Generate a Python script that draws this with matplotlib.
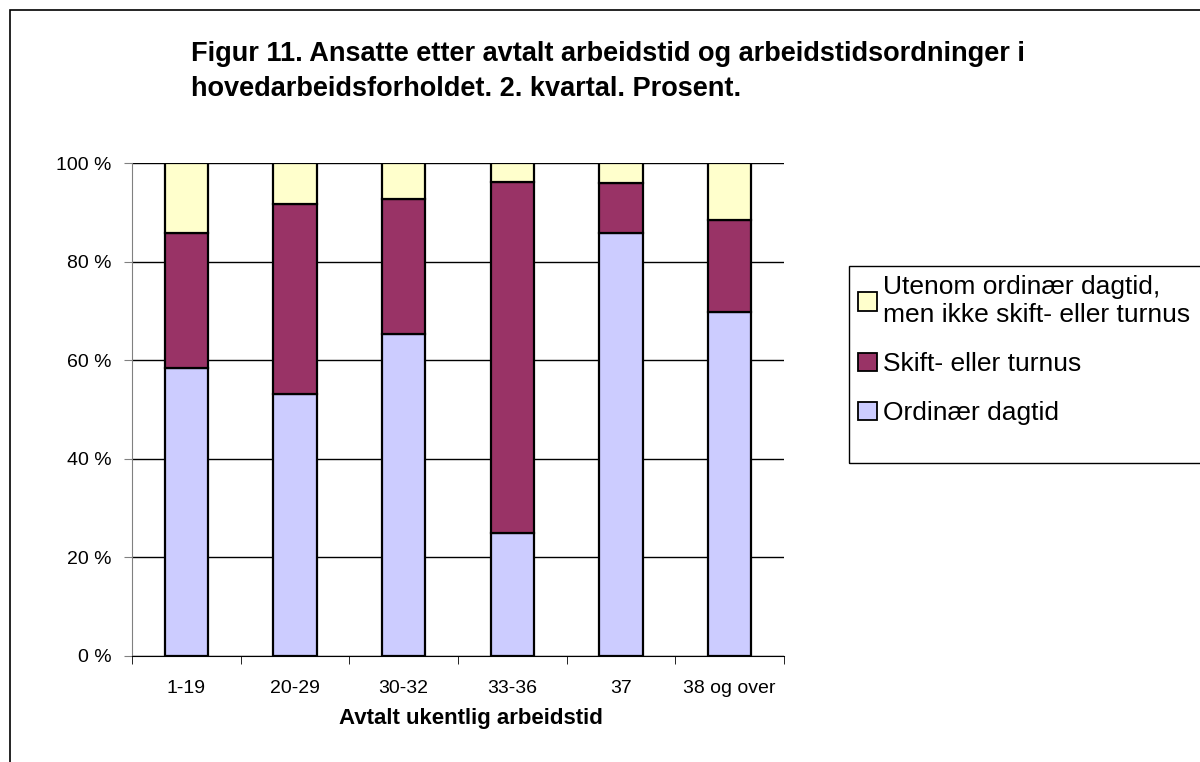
import numpy as np
import matplotlib
matplotlib.use("Agg")
import matplotlib.pyplot as plt
from matplotlib.patches import Patch, Rectangle
from matplotlib.ticker import FixedLocator

plt.rcParams['font.family'] = ['Liberation Sans', 'DejaVu Sans']

kategorier = ['1-19', '20-29', '30-32', '33-36', '37', '38 og over']
ordinaer = [58.5, 53.2, 65.4, 25.0, 85.7, 69.8]      # Ordinær dagtid
skift = [27.4, 38.5, 27.2, 71.1, 10.2, 18.6]         # Skift- eller turnus
utenom = [14.1, 8.3, 7.4, 3.9, 4.1, 11.6]            # Utenom ordinær dagtid
serienavn = ['Ordinær dagtid', 'Skift- eller turnus',
             'Utenom ordinær dagtid,\nmen ikke skift- eller turnus']
farger = ['#CCCCFF', '#993366', '#FFFFCC']

fig = plt.figure(figsize=(12, 7.62), dpi=100)
ax = fig.add_axes([132 / 1200, 1 - 656 / 762, 652 / 1200, 493 / 762])

x = np.arange(len(kategorier))
bunn = np.zeros(len(kategorier))
for verdier, farge in zip([ordinaer, skift, utenom], farger):
    ax.bar(x, verdier, width=0.40, bottom=bunn, color=farge,
           edgecolor='black', linewidth=1.6, zorder=3)
    bunn += np.array(verdier)

ax.set_xlim(-0.5, len(kategorier) - 0.5)
ax.set_ylim(0, 100)
ax.set_yticks([0, 20, 40, 60, 80, 100])
ax.set_yticklabels(['%d %%' % v for v in [0, 20, 40, 60, 80, 100]], fontsize=14)
ax.set_xticks(x)
ax.set_xticklabels(kategorier, fontsize=14)
ax.xaxis.set_minor_locator(FixedLocator(np.arange(-0.5, len(kategorier), 1)))
ax.tick_params(axis='x', which='major', length=0, pad=17)
ax.tick_params(axis='x', which='minor', length=6, direction='out', color='black')
ax.tick_params(axis='y', length=6, direction='out', pad=9, color='#808080')
ax.grid(axis='y', color='black', linewidth=1.0, zorder=0)
for s in ['top', 'right']:
    ax.spines[s].set_visible(False)
ax.spines['left'].set_color('#808080')
ax.spines['bottom'].set_color('black')
ax.set_xlabel('Avtalt ukentlig arbeidstid', fontsize=16, fontweight='bold')
ax.xaxis.set_label_coords(0.52, -0.105)

fig.text(191 / 1200, 1 - 41 / 762,
         'Figur 11. Ansatte etter avtalt arbeidstid og arbeidstidsordninger i\n'
         'hovedarbeidsforholdet. 2. kvartal. Prosent.', fontsize=19.5,
         fontweight='bold', va='top', ha='left', linespacing=1.45)

handles = [Patch(facecolor=f, edgecolor='black', linewidth=1.3) for f in farger]
leg = fig.legend(handles[::-1], serienavn[::-1], loc='upper left',
                 bbox_to_anchor=(849 / 1200, 1 - 266 / 762), fontsize=19,
                 frameon=False, borderpad=0.35, labelspacing=0.95,
                 handlelength=0.7, handleheight=0.7, handletextpad=0.25,
                 borderaxespad=0)

# legend frame like in the reference (larger than the entries)
fig.add_artist(Rectangle((849 / 1200, 1 - 463 / 762), 0.4, 197 / 762,
                         transform=fig.transFigure, fill=False,
                         edgecolor='black', linewidth=1.0))
# outer chart frame
fig.add_artist(Rectangle((10 / 1200, -0.1), 1.2, 1 - 10 / 762 + 0.1,
                         transform=fig.transFigure, fill=False,
                         edgecolor='black', linewidth=1.2))

fig.savefig('out.png', dpi=100)
